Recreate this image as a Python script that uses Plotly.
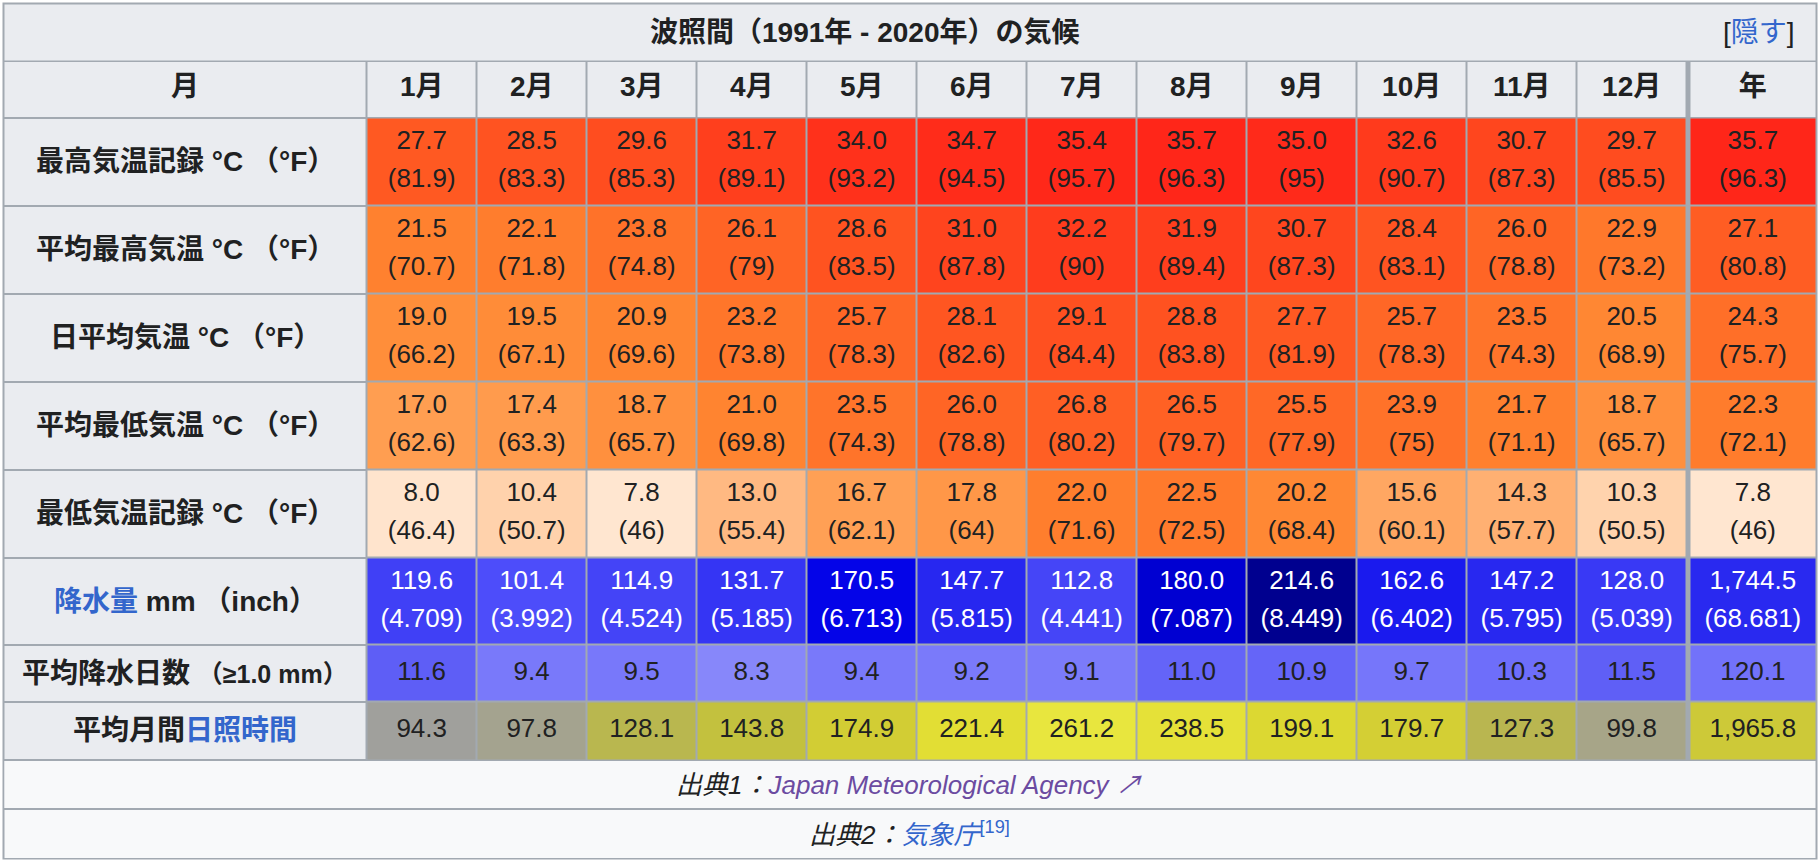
import plotly.graph_objects as go

# ---------------- data ----------------
title_text = "波照間（1991年 - 2020年）の気候"
toggle_text = "隠す"
corner_label = "月"
month_labels = ["1月", "2月", "3月", "4月", "5月", "6月", "7月", "8月", "9月", "10月", "11月", "12月"]
year_label = "年"

record_high_c = [27.7, 28.5, 29.6, 31.7, 34.0, 34.7, 35.4, 35.7, 35.0, 32.6, 30.7, 29.7]
record_high_c_year = 35.7
record_high_f = [81.9, 83.3, 85.3, 89.1, 93.2, 94.5, 95.7, 96.3, 95, 90.7, 87.3, 85.5]
record_high_f_year = 96.3

mean_max_c = [21.5, 22.1, 23.8, 26.1, 28.6, 31.0, 32.2, 31.9, 30.7, 28.4, 26.0, 22.9]
mean_max_c_year = 27.1
mean_max_f = [70.7, 71.8, 74.8, 79, 83.5, 87.8, 90, 89.4, 87.3, 83.1, 78.8, 73.2]
mean_max_f_year = 80.8

daily_mean_c = [19.0, 19.5, 20.9, 23.2, 25.7, 28.1, 29.1, 28.8, 27.7, 25.7, 23.5, 20.5]
daily_mean_c_year = 24.3
daily_mean_f = [66.2, 67.1, 69.6, 73.8, 78.3, 82.6, 84.4, 83.8, 81.9, 78.3, 74.3, 68.9]
daily_mean_f_year = 75.7

mean_min_c = [17.0, 17.4, 18.7, 21.0, 23.5, 26.0, 26.8, 26.5, 25.5, 23.9, 21.7, 18.7]
mean_min_c_year = 22.3
mean_min_f = [62.6, 63.3, 65.7, 69.8, 74.3, 78.8, 80.2, 79.7, 77.9, 75, 71.1, 65.7]
mean_min_f_year = 72.1

record_low_c = [8.0, 10.4, 7.8, 13.0, 16.7, 17.8, 22.0, 22.5, 20.2, 15.6, 14.3, 10.3]
record_low_c_year = 7.8
record_low_f = [46.4, 50.7, 46, 55.4, 62.1, 64, 71.6, 72.5, 68.4, 60.1, 57.7, 50.5]
record_low_f_year = 46

precip_mm = [119.6, 101.4, 114.9, 131.7, 170.5, 147.7, 112.8, 180.0, 214.6, 162.6, 147.2, 128.0]
precip_mm_year = 1744.5
precip_in = [4.709, 3.992, 4.524, 5.185, 6.713, 5.815, 4.441, 7.087, 8.449, 6.402, 5.795, 5.039]
precip_in_year = 68.681

rain_days = [11.6, 9.4, 9.5, 8.3, 9.4, 9.2, 9.1, 11.0, 10.9, 9.7, 10.3, 11.5]
rain_days_year = 120.1

sunshine_hours = [94.3, 97.8, 128.1, 143.8, 174.9, 221.4, 261.2, 238.5, 199.1, 179.7, 127.3, 99.8]
sunshine_hours_year = 1965.8

source1_prefix = "出典1："
source1_link = "Japan Meteorological Agency"
source2_prefix = "出典2："
source2_link = "気象庁"
source2_ref = "[19]"

# ---------------- style ----------------
W, H = 1820, 862
BORDER = "#a2a9b1"
HEAD_BG = "#eaecf0"
FOOT_BG = "#f8f9fa"
TEXT = "#202122"
LINK = "#3366cc"
VISITED = "#6b4ba1"
FONT = "Liberation Sans, Noto Sans CJK JP, sans-serif"

X0, Y0 = 3.5, 3.5
LABEL_W, MONTH_W, SEP_W, YEAR_W = 363.2, 110.0, 3.0, 126.3
ROW_H = [57.5, 56.5, 88, 88, 88, 88, 88, 87, 57, 58.5, 49, 49.5]
GAP = 2
OUTER = 1.0
LINE_OFF = 19
TOGGLE_W = 90
TOGGLE_PAD = 19
DATA_SIZE = 26
HEAD_SIZE = 28
SMALL_SIZE = 25
SRC_SIZE = 26

TEMP_STOPS = [(7.8, (255, 230, 208)), (10.4, (255, 210, 172)), (13.0, (255, 185, 130)),
              (16.7, (255, 160, 85)), (19.0, (255, 142, 58)), (21.0, (255, 132, 48)),
              (23.2, (255, 118, 42)), (25.7, (255, 103, 38)), (28.1, (255, 86, 33)),
              (35.7, (255, 38, 25))]
PRECIP_STOPS = [(100, (78, 78, 250)), (120, (64, 64, 246)), (131, (54, 54, 244)),
                (147, (40, 40, 240)), (163, (26, 26, 238)), (170.5, (4, 4, 232)),
                (180, (0, 0, 210)), (215, (0, 0, 142))]
DAYS_STOPS = [(8.3, (135, 135, 250)), (9.2, (122, 122, 250)), (9.5, (120, 120, 250)),
              (10.3, (110, 110, 250)), (11.0, (100, 100, 248)), (11.6, (94, 94, 246))]
SUN_STOPS = [(94.3, (160, 160, 156)), (99.8, (167, 165, 136)), (127.3, (185, 182, 80)),
             (143.8, (195, 193, 62)), (174.9, (210, 205, 52)), (199.1, (220, 216, 50)),
             (221.4, (226, 222, 52)), (261.2, (232, 230, 62))]


def colorscale(stops):
    lo, hi = stops[0][0], stops[-1][0]
    return [[(v - lo) / (hi - lo), "rgb(%d,%d,%d)" % c] for v, c in stops], lo, hi


def cumulative(start, sizes):
    out = [start]
    for s in sizes:
        out.append(out[-1] + s)
    return out


col_w = [LABEL_W] + [MONTH_W] * 12 + [SEP_W, YEAR_W]
col_edges = cumulative(X0, col_w)
row_edges = cumulative(Y0, ROW_H)
col_c = [(a + b) / 2 for a, b in zip(col_edges[:-1], col_edges[1:])]
row_c = [(a + b) / 2 for a, b in zip(row_edges[:-1], row_edges[1:])]
data_cols = list(range(1, 13)) + [14]
left, right, top, bottom = col_edges[0], col_edges[-1], row_edges[0], row_edges[-1]

fig = go.Figure()


def solid(x, y, z, color, gap=GAP):
    fig.add_trace(go.Heatmap(x=x, y=y, z=z, colorscale=[[0, color], [1, color]],
                             zmin=0, zmax=1, showscale=False, hoverinfo="skip",
                             xgap=gap, ygap=gap))


# table background (border colour)
solid([left - OUTER, right + OUTER], [top - OUTER, bottom + OUTER], [[1]], BORDER, gap=0)
# caption row
solid([left, right], row_edges[0:2], [[1]], HEAD_BG)
# header row and label column
hz = []
for r in range(10):
    row = []
    for c in range(15):
        if c == 13:
            row.append(None)
        elif r == 0 or c == 0:
            row.append(1)
        else:
            row.append(None)
    hz.append(row)
solid(col_edges, row_edges[1:12], hz, HEAD_BG)
# source rows
solid([left, right], row_edges[10:12], [[1]], FOOT_BG)
solid([left, right], row_edges[11:13], [[1]], FOOT_BG)


def data_row(vals, year_val):
    return [None] + list(vals) + [None, year_val]


def value_heatmap(first_row, zrows, stops):
    cs, lo, hi = colorscale(stops)
    fig.add_trace(go.Heatmap(x=col_edges, y=row_edges[first_row:first_row + len(zrows) + 1],
                             z=zrows, colorscale=cs, zmin=lo, zmax=hi, showscale=False,
                             hoverinfo="skip", xgap=GAP, ygap=GAP))


temp_c = [(record_high_c, record_high_c_year), (mean_max_c, mean_max_c_year),
          (daily_mean_c, daily_mean_c_year), (mean_min_c, mean_min_c_year),
          (record_low_c, record_low_c_year)]
temp_f = [(record_high_f, record_high_f_year), (mean_max_f, mean_max_f_year),
          (daily_mean_f, daily_mean_f_year), (mean_min_f, mean_min_f_year),
          (record_low_f, record_low_f_year)]

value_heatmap(2, [data_row(v, y) for v, y in temp_c], TEMP_STOPS)
value_heatmap(7, [data_row(precip_mm, precip_mm_year / 12)], PRECIP_STOPS)
value_heatmap(8, [data_row(rain_days, rain_days_year / 12)], DAYS_STOPS)
value_heatmap(9, [data_row(sunshine_hours, sunshine_hours_year / 12)], SUN_STOPS)


def text_trace(xs, ys, texts, color=TEXT, size=DATA_SIZE, weight="normal"):
    fig.add_trace(go.Scatter(x=xs, y=ys, text=texts, mode="text", textposition="middle center",
                             hoverinfo="skip", showlegend=False,
                             textfont=dict(family=FONT, size=size, color=color, weight=weight)))


xs = [col_c[c] for c in data_cols]
# header texts
text_trace([col_c[0]] + xs, [row_c[1]] * 14, [corner_label] + month_labels + [year_label],
           size=HEAD_SIZE, weight="bold")

# temperature rows
for i, ((cv, cy), (fv, fy)) in enumerate(zip(temp_c, temp_f)):
    r = 2 + i
    text_trace(xs, [row_c[r] - LINE_OFF] * 13, ["%.1f" % v for v in list(cv) + [cy]])
    text_trace(xs, [row_c[r] + LINE_OFF] * 13, ["(%g)" % v for v in list(fv) + [fy]])

# precipitation
text_trace(xs, [row_c[7] - LINE_OFF] * 13, ["{:,.1f}".format(v) for v in precip_mm + [precip_mm_year]],
           color="white")
text_trace(xs, [row_c[7] + LINE_OFF] * 13, ["({:,.3f})".format(v) for v in precip_in + [precip_in_year]],
           color="white")
# rain days and sunshine
text_trace(xs, [row_c[8]] * 13, ["{:,.1f}".format(v) for v in rain_days + [rain_days_year]])
text_trace(xs, [row_c[9]] * 13, ["{:,.1f}".format(v) for v in sunshine_hours + [sunshine_hours_year]])

# row labels
row_labels = [
    "最高気温記録 °C （°F）",
    "平均最高気温 °C （°F）",
    "日平均気温 °C （°F）",
    "平均最低気温 °C （°F）",
    "最低気温記録 °C （°F）",
    "<span style='color:%s'>降水量</span> mm （inch）" % LINK,
    "平均降水日数 <span style='font-size:%dpx'>（≥1.0 mm）</span>" % SMALL_SIZE,
    "平均月間<span style='color:%s'>日照時間</span>" % LINK,
]
annotations = []
for i, lab in enumerate(row_labels):
    annotations.append(dict(x=col_c[0], y=row_c[2 + i], text=lab, showarrow=False,
                            xanchor="center", yanchor="middle",
                            font=dict(family=FONT, size=HEAD_SIZE, color=TEXT, weight="bold")))

# caption and toggle
annotations.append(dict(x=(left + right - TOGGLE_W) / 2, y=row_c[0], text=title_text, showarrow=False,
                        xanchor="center", yanchor="middle",
                        font=dict(family=FONT, size=HEAD_SIZE, color=TEXT, weight="bold")))
annotations.append(dict(x=right - TOGGLE_PAD, y=row_c[0],
                        text="[<span style='color:%s'>%s</span>]" % (LINK, toggle_text),
                        showarrow=False, xanchor="right", yanchor="middle",
                        font=dict(family=FONT, size=HEAD_SIZE, color=TEXT)))
# sources
annotations.append(dict(x=(left + right) / 2, y=row_c[10],
                        text="%s<span style='color:%s'>%s ↗</span>"
                             % (source1_prefix, VISITED, source1_link),
                        showarrow=False, xanchor="center", yanchor="middle",
                        font=dict(family=FONT, size=SRC_SIZE, color=TEXT, style="italic")))
annotations.append(dict(x=(left + right) / 2, y=row_c[11],
                        text="%s<span style='color:%s'>%s<sup><span style='font-style:normal'>%s</span></sup></span>"
                             % (source2_prefix, LINK, source2_link, source2_ref),
                        showarrow=False, xanchor="center", yanchor="middle",
                        font=dict(family=FONT, size=SRC_SIZE, color=TEXT, style="italic")))

fig.update_layout(
    width=W, height=H, margin=dict(l=0, r=0, t=0, b=0, pad=0),
    paper_bgcolor="white", plot_bgcolor="white", showlegend=False,
    xaxis=dict(range=[0, W], visible=False, fixedrange=True),
    yaxis=dict(range=[H, 0], visible=False, fixedrange=True),
    annotations=annotations,
)

fig.write_html("out.html", config={"displayModeBar": False},
               post_script="document.body.style.margin='0';document.body.style.overflow='hidden';")
